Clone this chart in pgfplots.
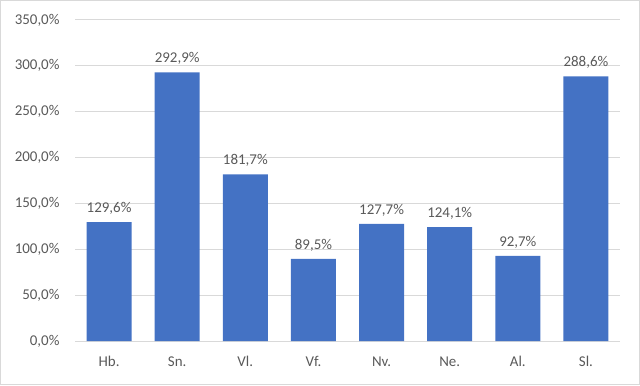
\documentclass[border=0pt]{standalone}
\usepackage{pgfplots}
\pgfplotsset{compat=1.18}
\usepackage{fontspec}
\setmainfont{Carlito}
\definecolor{barblue}{HTML}{4472C4}
\definecolor{txtgray}{HTML}{595959}
\definecolor{gridgray}{HTML}{D9D9D9}
\begin{document}
\begin{tikzpicture}[x=1bp,y=1bp]
\draw[gridgray, line width=1bp] (0.5,0.5) rectangle (639.5,384.5);
\begin{axis}[
  at={(75bp,44bp)}, anchor=south west,
  scale only axis, width=545bp, height=321bp,
  ymin=0, ymax=350, ytick={0,50,...,350},
  xmin=-0.5, xmax=7.5,
  xtick={0,...,7},
  xticklabels={Hb.,Sn.,Vl.,Vf.,Nv.,Ne.,Al.,Sl.},
  axis line style={draw=none},
  major tick length=0pt,
  ymajorgrids, grid style={gridgray, line width=1bp},
  /pgf/number format/assume math mode=true,
  ticklabel style={text=txtgray, font=\fontsize{15}{18}\selectfont},
  yticklabel={\pgfmathprintnumber[fixed,fixed zerofill,precision=1,use comma,1000 sep={}]{\tick}\%},
  yticklabel style={xshift=-12bp},
  xticklabel style={yshift=-12bp},
  ybar, bar width=0.66,
  nodes near coords={\pgfmathprintnumber[fixed,fixed zerofill,precision=1,use comma,1000 sep={}]{\pgfplotspointmeta}\%},
  nodes near coords style={text=txtgray, font=\fontsize{15}{18}\selectfont, yshift=4bp},
  clip=false,
]
\addplot[fill=barblue, draw=none] coordinates {
(0,129.6) (1,292.9) (2,181.7) (3,89.5) (4,127.7) (5,124.1) (6,92.7) (7,288.6)};
\end{axis}
\end{tikzpicture}
\end{document}
